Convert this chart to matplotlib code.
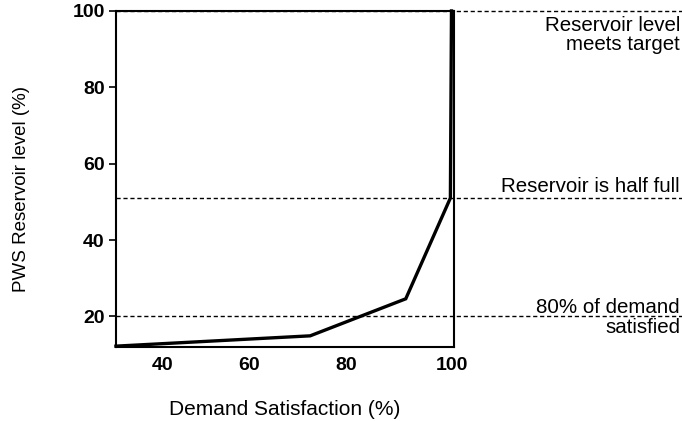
import matplotlib
matplotlib.use("Agg")
import matplotlib.pyplot as plt
import numpy as np

plt.rcParams['font.family'] = ['Liberation Sans', 'DejaVu Sans']

# curve: demand satisfaction vs reservoir level
demand = [27.8, 72.8, 91.5, 99.8, 100]
level = [12.2, 14.9, 24.6, 51, 100]

# reference lines and their labels
ref_levels = [100, 51, 20]
ref_labels = ["Reservoir level\nmeets target", "Reservoir is half full", "80% of demand\nsatisfied"]

xticks = [40, 60, 80, 100]
yticks = [20, 40, 60, 80, 100]

# x axis of the original is stretched towards high values (power scale)
P = 1.33


def fwd(x):
    return np.sign(x) * np.abs(x) ** P


def inv(x):
    return np.sign(x) * np.abs(x) ** (1 / P)


fig = plt.figure(figsize=(6.82, 4.21), dpi=100)
ax = fig.add_axes([0.170, 0.176, 0.496, 0.798])
ax.set_xscale("function", functions=(fwd, inv))

ax.plot(demand, level, color="black", lw=2.4, solid_joinstyle="miter", clip_on=False, zorder=3)

ax.set_xlim(27.8, 100.5)
ax.set_ylim(12, 100)

# dashed lines run past the axes to the right edge of the figure
x0, x1 = ax.get_position().x0, ax.get_position().x1
xmax = (1.0 - x0) / (x1 - x0)
for yv in ref_levels:
    ax.axhline(yv, xmin=0, xmax=xmax, color="black", lw=1, ls=(0, (3, 2)), clip_on=False, zorder=2)

trans = ax.get_yaxis_transform()
xt = xmax - 0.006
ax.text(xt, 100 - 1.2, ref_labels[0], transform=trans, ha="right", va="top", fontsize=14.8, linespacing=1.02)
ax.text(xt, 51 + 0.5, ref_labels[1], transform=trans, ha="right", va="bottom", fontsize=14.8)
ax.text(xt, 19.8, ref_labels[2], transform=trans, ha="right", va="center", fontsize=14.8, linespacing=1.05)

ax.set_xticks(xticks)
ax.set_xticks([], minor=True)
ax.set_xticklabels([str(v) for v in xticks])
ax.set_yticks(yticks)
ax.tick_params(axis="x", length=0, pad=7, labelsize=14)
ax.tick_params(axis="y", length=5, width=1.2, pad=3, labelsize=14)
for lab in ax.get_xticklabels() + ax.get_yticklabels():
    lab.set_fontweight("bold")

for s in ax.spines.values():
    s.set_linewidth(1.5)

ax.set_xlabel("Demand Satisfaction (%)", fontsize=15, labelpad=19)
ax.set_ylabel("PWS Reservoir level (%)", fontsize=13.5)
ax.yaxis.set_label_coords(-0.255, 0.47)

fig.savefig("out.png", dpi=100)
